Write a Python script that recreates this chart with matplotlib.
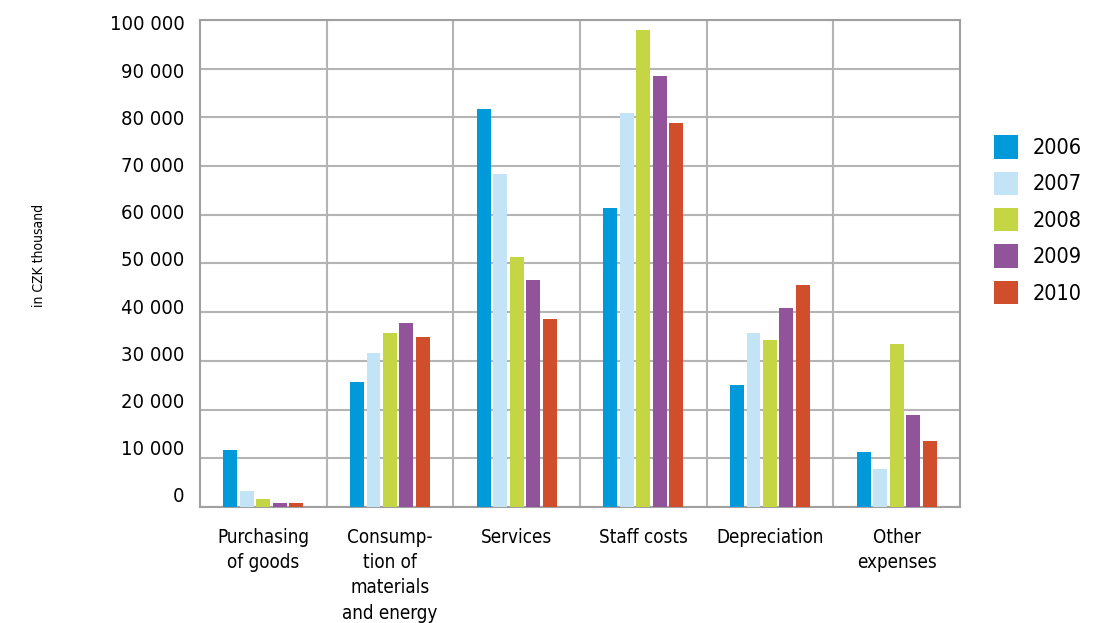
import matplotlib
matplotlib.use("Agg")
import matplotlib.pyplot as plt
import matplotlib.transforms as mtransforms
import numpy as np

categories = [
    "Purchasing\nof goods",
    "Consump-\ntion of\nmaterials\nand energy",
    "Services",
    "Staff costs",
    "Depreciation",
    "Other\nexpenses",
]
years = ["2006", "2007", "2008", "2009", "2010"]
values_2006 = [11700, 25700, 81700, 61400, 25050, 11300]
values_2007 = [3350, 31700, 68400, 80900, 35700, 7800]
values_2008 = [1650, 35800, 51300, 97900, 34300, 33500]
values_2009 = [900, 37850, 46600, 88500, 40900, 18900]
values_2010 = [900, 35000, 38600, 78850, 45600, 13550]
series = [values_2006, values_2007, values_2008, values_2009, values_2010]
colors = ["#009ADA", "#C3E3F7", "#C5D644", "#915399", "#D14E2C"]
yticks = list(range(0, 100001, 10000))

plt.rcParams["font.family"] = ["DejaVu Sans"]
plt.rcParams["font.stretch"] = "condensed"
fig = plt.figure(figsize=(11.06, 6.23), dpi=100)
ax = fig.add_axes([0.1808, 0.1862, 0.868 - 0.1808, 0.9679 - 0.1862])

x = np.arange(len(categories))
width = 0.11
pitch = 0.13
for i, (vals, col, yr) in enumerate(zip(series, colors, years)):
    ax.bar(x + (i - 2) * pitch, vals, width=width, color=col, label=yr, zorder=3)

ax.set_xlim(-0.5, len(categories) - 0.5)
ax.set_ylim(0, 100000)
ax.set_yticks(yticks)
ax.set_yticklabels([f"{v:,}".replace(",", " ") for v in yticks], fontsize=14.5)
ax.yaxis.grid(True, color="#B4B4B4", linewidth=1.5, zorder=0)
for b in np.arange(0.5, len(categories) - 0.5, 1):
    ax.axvline(b, color="#B4B4B4", linewidth=1.5, zorder=0)
ax.set_xticks(x)
ax.set_xticklabels(categories, fontsize=13.5, linespacing=1.42, va="top")
ax.tick_params(axis="both", length=0)
ax.tick_params(axis="x", pad=15)
ax.tick_params(axis="y", pad=11)
# labels in the original sit a little above their gridlines, drifting toward the top
for k, lbl in enumerate(ax.get_yticklabels()):
    dy = (12 - 1.5 * k) * 0.72
    lbl.set_transform(lbl.get_transform() + mtransforms.ScaledTranslation(0, dy / 72, fig.dpi_scale_trans))
for s in ["left", "right", "top", "bottom"]:
    ax.spines[s].set_color("#A0A0A0")
    ax.spines[s].set_linewidth(1.5)

fig.text(0.035, 0.59, "in CZK thousand", rotation=90, ha="center", va="center", fontsize=10)

ax.legend(loc="center left", bbox_to_anchor=(1.034, 0.59), frameon=False, fontsize=15.5,
          handlelength=1.1, handleheight=1.3, handletextpad=0.65, labelspacing=0.6,
          borderaxespad=0)

fig.savefig("out.png", dpi=100)
